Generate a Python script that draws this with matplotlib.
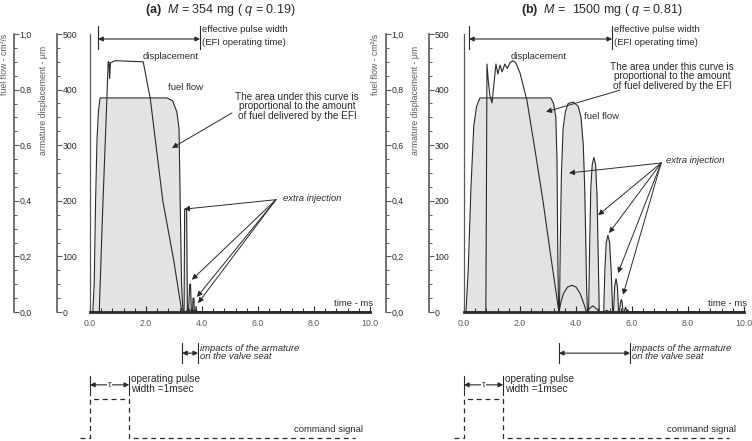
import matplotlib
matplotlib.use("Agg")
import matplotlib.pyplot as plt
from matplotlib.ticker import MultipleLocator, FuncFormatter

plt.rcParams['font.family'] = ['Liberation Sans', 'DejaVu Sans']
plt.rcParams['mathtext.fontset'] = 'custom'
plt.rcParams['mathtext.rm'] = 'Liberation Sans'
plt.rcParams['mathtext.it'] = 'Liberation Sans:italic'
plt.rcParams['mathtext.bf'] = 'Liberation Sans:bold'

# ---- data ----
titles = [r'$\mathbf{(a)}$  $\mathit{M}$ = 354 mg ( $\mathit{q}$ = 0.19)',
          r'$\mathbf{(b)}$  $\mathit{M}$ =  1500 mg ( $\mathit{q}$ = 0.81)']

# panel (a): fuel flow (cm3/s scale 0..1) and displacement (um)
t_flow_a = [0.0, 0.1, 0.15, 0.2, 0.25, 0.3, 0.36, 2.75, 2.95, 3.1, 3.18, 3.22, 3.27, 3.32,
            3.36, 3.38, 3.45, 3.48, 3.52, 3.56, 3.59, 3.62, 3.66, 3.68, 3.71, 3.73, 3.77, 3.79,
            3.81, 10.0]
q_flow_a = [0.0, 0.0, 0.1, 0.4, 0.62, 0.72, 0.77, 0.77, 0.76, 0.72, 0.66, 0.4, 0.1, 0.0,
            0.0, 0.37, 0.37, 0.0, 0.0, 0.1, 0.1, 0.0, 0.0, 0.05, 0.05, 0.0, 0.0, 0.02,
            0.0, 0.0]
t_disp_a = [0.0, 0.33, 0.45, 0.6, 0.65, 0.68, 0.7, 0.73, 0.9, 1.9, 1.97, 2.05, 2.15, 2.6,
            3.0, 3.28, 3.45, 3.5, 3.6, 3.7, 3.8, 10.0]
x_disp_a = [0, 0, 180, 380, 450, 450, 420, 448, 452, 450, 432, 410, 385, 200,
            90, 0, 0, 8, 0, 3, 0, 0]

# panel (b)
t_flow_b = [0.0, 0.07, 0.15, 0.25, 0.35, 0.45, 0.57, 3.1, 3.2, 3.28, 3.32, 3.35, 3.38,
            3.41, 3.44, 3.48, 3.54, 3.62, 3.72, 3.9, 4.08, 4.18, 4.26, 4.31, 4.35, 4.38, 4.41,
            4.45, 4.49, 4.53, 4.58, 4.64, 4.7, 4.75, 4.79, 4.83,
            4.99, 5.03, 5.08, 5.14, 5.2, 5.26, 5.31,
            5.34, 5.38, 5.43, 5.48, 5.52,
            5.55, 5.59, 5.62, 5.65, 5.68,
            5.72, 5.77, 5.82, 5.85, 5.88, 10.0]
q_flow_b = [0.0, 0.0, 0.15, 0.45, 0.67, 0.74, 0.77, 0.77, 0.75, 0.7, 0.55, 0.2, 0.0,
            0.0, 0.25, 0.5, 0.66, 0.72, 0.75, 0.755, 0.74, 0.7, 0.6, 0.45, 0.25, 0.08, 0.0,
            0.0, 0.25, 0.45, 0.53, 0.556, 0.53, 0.42, 0.22, 0.0,
            0.0, 0.15, 0.25, 0.276, 0.25, 0.14, 0.0,
            0.0, 0.09, 0.12, 0.09, 0.0,
            0.0, 0.035, 0.045, 0.035, 0.0,
            0.0, 0.018, 0.0, 0.008, 0.0, 0.0]
t_disp_b = [0.0, 0.78, 0.8, 0.82, 0.86, 0.92, 1.0, 1.07, 1.14, 1.21, 1.29, 1.36, 1.46, 1.54,
            1.64, 1.75, 1.85, 2.0, 2.25, 2.54, 2.82, 3.1, 3.39, 3.45, 3.55, 3.7, 3.86, 4.0,
            4.15, 4.3, 4.37, 4.45, 4.6, 4.75, 4.85, 4.98, 5.1, 5.2, 10.0]
x_disp_b = [0, 0, 200, 446, 420, 390, 376, 410, 446, 428, 444, 432, 446, 438,
            448, 452, 448, 430, 380, 290, 200, 100, 0, 15, 33, 45, 48, 45,
            33, 12, 0, 5, 11, 5, 0, 0, 3, 0, 0]

# command signal (level 0/1) and pulse width in ms
cmd_t = [-0.36, 0.0, 0.0, 1.4, 1.4, 9.46]
cmd_level = [0, 0, 1, 1, 0, 0]
pulse_w = 1.4

# marked intervals (ms)
eff_pulse = [(0.29, 3.93), (0.18, 5.29)]
impacts = [(3.29, 3.86), (3.39, 5.93)]

W, H = 752, 441
INK = '#2a2a2a'
GRAY = '#5a5a5a'
FILL = '#e3e3e3'
FS = 6.8


def box(x0, y0, x1, y1):
    return [x0 / W, 1 - y1 / H, (x1 - x0) / W, (y1 - y0) / H]


def scale_axis(fig, x, top, bottom, ymax, major, minor, fmt):
    a = fig.add_axes(box(x, top, x + 0.01, bottom))
    a.set_ylim(0, ymax)
    a.patch.set_visible(False)
    for s in ('left', 'top', 'bottom'):
        a.spines[s].set_visible(False)
    a.spines['right'].set_color(GRAY)
    a.spines['right'].set_linewidth(1.2)
    a.xaxis.set_visible(False)
    a.yaxis.set_ticks_position('right')
    a.yaxis.set_major_locator(MultipleLocator(major))
    a.yaxis.set_minor_locator(MultipleLocator(minor))
    a.yaxis.set_major_formatter(FuncFormatter(fmt))
    a.tick_params(axis='y', which='major', direction='out', length=3.5, width=0.8,
                  pad=0.5, labelsize=6.3, colors=GRAY, labelcolor=INK)
    a.tick_params(axis='y', which='minor', direction='out', length=2.5, width=0.7, colors=GRAY)
    return a


def bar_arrow(ax, t0, t1, y, ylo, yhi):
    ax.plot([t0, t0], [ylo, yhi], color=INK, lw=0.8, clip_on=False)
    ax.plot([t1, t1], [ylo, yhi], color=INK, lw=0.8, clip_on=False)
    ax.annotate('', xy=(t1, y), xytext=(t0, y), annotation_clip=False,
                arrowprops=dict(arrowstyle='<|-|>', color=INK, lw=0.8,
                                mutation_scale=7, shrinkA=0, shrinkB=0))


def arrow(ax, src, dst):
    ax.annotate('', xy=dst, xytext=src, annotation_clip=False,
                arrowprops=dict(arrowstyle='-|>', color=INK, lw=0.7,
                                mutation_scale=8, shrinkA=0, shrinkB=0))


def draw_panel(fig, p, t_flow, q_flow, t_disp, x_disp, eff, imp):
    x0 = p['x0']
    # outer scales
    scale_axis(fig, p['fuel_x'], 34, 312, 1.0, 0.2, 0.05,
               lambda v, _: f"{v:.1f}".replace('.', ','))
    scale_axis(fig, p['disp_x'], 34, 312, 500, 100, 25, lambda v, _: f"{v:.0f}")
    fig.text(p['fuel_lab'] / W, 1 - 64 / H, 'fuel flow - cm³/s', rotation=90,
             ha='center', va='center', fontsize=6.3, color=GRAY)
    fig.text(p['disp_lab'] / W, 1 - 100 / H, 'armature displacement - μm', rotation=90,
             ha='center', va='center', fontsize=6.3, color=GRAY)

    # main axes: fuel flow
    ax = fig.add_axes(box(x0, 34, x0 + 280, 312))
    ax.set_xlim(0, 10)
    ax.set_ylim(0, 1)
    ax.fill_between(t_flow, q_flow, 0, color=FILL, lw=0)
    ax.plot(t_flow, q_flow, color=INK, lw=0.8)
    for s in ('top', 'right'):
        ax.spines[s].set_visible(False)
    ax.spines['left'].set_color(GRAY)
    ax.spines['left'].set_linewidth(0.9)
    ax.spines['bottom'].set_color(INK)
    ax.spines['bottom'].set_linewidth(2.0)
    ax.set_yticks([])
    ax.xaxis.set_major_locator(MultipleLocator(2))
    ax.xaxis.set_minor_locator(MultipleLocator(0.4))
    ax.xaxis.set_major_formatter(FuncFormatter(lambda v, _: f"{v:.1f}"))
    ax.tick_params(axis='x', which='major', direction='in', length=4, width=0.8,
                   pad=5, labelsize=6.3, colors=INK, labelcolor=GRAY)
    ax.tick_params(axis='x', which='minor', direction='in', length=3, width=0.7, colors=INK)

    # displacement on twin scale
    ad = ax.twinx()
    ad.set_ylim(0, 500)
    ad.set_axis_off()
    ad.plot(t_disp, x_disp, color=INK, lw=0.8)

    # annotations
    ad.text(p['disp_txt'][0], p['disp_txt'][1], 'displacement', fontsize=FS,
            color=INK, va='center')
    ad.text(p['flow_txt'][0], p['flow_txt'][1], 'fuel flow', fontsize=FS,
            color=INK, va='center')
    ad.text(p['area_txt'][0], p['area_txt'][1],
            'The area under this curve is\nproportional to the amount\nof fuel delivered by the EFI',
            fontsize=7.2, color=INK, ha='center', va='center', linespacing=0.95)
    arrow(ad, p['area_arrow'][0], p['area_arrow'][1])

    bar_arrow(ad, eff[0], eff[1], 491, 473, 514)
    ad.text(eff[1] + 0.07, 496, 'effective pulse width\n(EFI operating time)',
            fontsize=FS, color=INK, va='center', linespacing=1.55)

    ad.text(p['extra_txt'][0], p['extra_txt'][1], 'extra injection', fontsize=FS,
            style='italic', color=INK, va='center')
    for tip in p['extra_tips']:
        arrow(ad, p['extra_src'], tip)

    ad.text(10.12, 16, 'time - ms', fontsize=FS, color=INK, ha='right', va='center')

    bar_arrow(ad, imp[0], imp[1], -74, -56, -91)
    ad.text(imp[1] + 0.07, -73, 'impacts of the armature\non the valve seat',
            fontsize=FS, style='italic', color=INK, va='center', linespacing=0.95)

    bar_arrow(ad, 0, pulse_w, -131, -115, -149)
    ad.text(pulse_w / 2, -131, 'τ', fontsize=6.5, color=INK, ha='center', va='center',
            bbox=dict(facecolor='white', edgecolor='none', pad=0.6))
    ad.text(pulse_w + 0.06, -129, 'operating pulse\nwidth =1msec', fontsize=7.3,
            color=INK, va='center', linespacing=0.95)

    # command signal
    ac = fig.add_axes(box(x0, 399, x0 + 280, 438))
    ac.set_xlim(0, 10)
    ac.set_ylim(0, 1)
    ac.set_axis_off()
    ac.plot(cmd_t, cmd_level, color=INK, lw=0.9, linestyle=(0, (4, 3)), clip_on=False)
    ac.text(p['cmd_txt'], 0.23, 'command signal', fontsize=FS, color=INK,
            ha='right', va='center')

    fig.text(p['title_x'] / W, 1 - 12.5 / H, p['title'], fontsize=9, color=INK,
             ha='center', va='baseline')


fig = plt.figure(figsize=(W / 100, H / 100), dpi=100)

panel_a = dict(x0=90, fuel_x=14, disp_x=57, fuel_lab=5, disp_lab=44, title_x=220,
               title=titles[0],
               disp_txt=(1.89, 459), flow_txt=(2.79, 403), area_txt=(7.39, 370),
               area_arrow=((5.07, 358), (2.93, 295)),
               extra_txt=(6.9, 205), extra_src=(6.64, 202),
               extra_tips=[(3.36, 185), (3.64, 58), (3.82, 27), (3.86, 16)],
               cmd_txt=9.75)
panel_b = dict(x0=464, fuel_x=386, disp_x=429, fuel_lab=376, disp_lab=416, title_x=602,
               title=titles[1],
               disp_txt=(1.68, 460), flow_txt=(4.29, 351), area_txt=(7.43, 424),
               area_arrow=((5.57, 399), (2.93, 360)),
               extra_txt=(7.21, 272), extra_src=(7.04, 268),
               extra_tips=[(3.75, 250), (4.79, 174), (5.18, 142), (5.5, 70), (5.68, 31)],
               cmd_txt=9.71)

draw_panel(fig, panel_a, t_flow_a, q_flow_a, t_disp_a, x_disp_a, eff_pulse[0], impacts[0])
draw_panel(fig, panel_b, t_flow_b, q_flow_b, t_disp_b, x_disp_b, eff_pulse[1], impacts[1])

fig.savefig('out.png', dpi=100)
